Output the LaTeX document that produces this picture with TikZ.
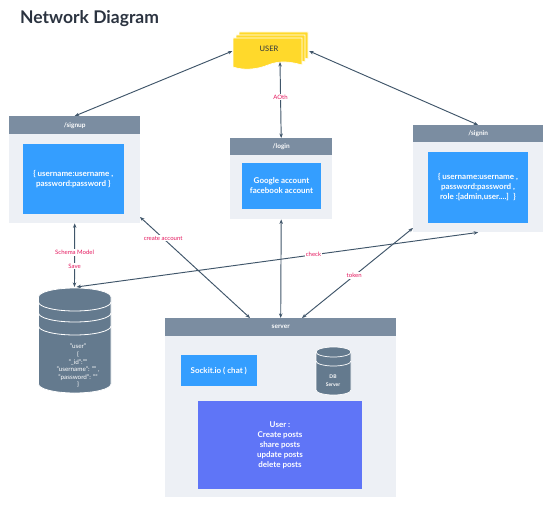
\documentclass[tikz,border=0pt]{standalone}
\usepackage{fontspec}
\setmainfont{Lato}
\usepackage{xcolor}
\usetikzlibrary{arrows.meta}
\definecolor{titlec}{HTML}{2B3340}
\definecolor{headc}{HTML}{7B8DA1}
\definecolor{bodyc}{HTML}{EDF0F5}
\definecolor{bluec}{HTML}{349EFF}
\definecolor{purplec}{HTML}{5F75F7}
\definecolor{yellowc}{HTML}{FFD92B}
\definecolor{dbc}{HTML}{647A8E}
\definecolor{linkc}{HTML}{40566A}
\definecolor{tagc}{HTML}{E5195F}
\tikzset{
  panel/.style={fill=bodyc, inner sep=0pt, anchor=north west},
  head/.style={fill=headc, text=white, inner sep=0pt, anchor=north west, font=\fontsize{6.5}{8}\selectfont\bfseries},
  card/.style={fill=bluec, text=white, inner sep=0pt, align=center, font=\fontsize{8}{10}\selectfont\bfseries},
  link/.style={draw=linkc, line width=0.95pt, {Stealth[length=4.5pt,width=3.5pt]}-{Stealth[length=4.5pt,width=3.5pt]}},
  tag/.style={fill=white, text=tagc, inner sep=1pt, font=\fontsize{6}{7}\selectfont},
  dbtxt/.style={text=white, align=center, inner sep=0pt},
}
% x y width height of a database drum
\newcommand{\drum}[7]{
  \draw[white,fill=dbc,line width=#7] (#1-#3,#2) arc (180:360:#3 and #4) -- (#1+#3,#2+#5) arc (0:180:#3 and #4) -- cycle;
  \foreach \k in {#6}
    \draw[white,line width=#7] (#1-#3,#2+\k) arc (180:0:#3 and #4);
}
\begin{document}
\begin{tikzpicture}[x=1pt,y=-1pt]
  \useasboundingbox (0,0) rectangle (557,508);
  \node[anchor=west,text=titlec,font=\fontsize{17.5}{20}\selectfont\bfseries,inner sep=0pt] (title) at (20,19) {Network Diagram};
  % user stack
  \foreach \d/\c in {6/yellowc,3/yellowc,0/yellowc}
    \draw[white,fill=\c,line width=0.6pt]
      (233+\d,38-\d) -- (302+\d,38-\d) -- (302+\d,65-\d) .. controls (292+\d,62-\d) and (280+\d,60-\d) .. (268+\d,65-\d) .. controls (258+\d,69-\d) and (245+\d,71-\d) .. (233+\d,67-\d) -- cycle;
  \node[font=\fontsize{7.5}{9}\selectfont,text=titlec] (user) at (269,49) {USER};
  \coordinate (userL) at (232.5,51);
  \coordinate (userR) at (309,51);
  \coordinate (userB) at (280,62);
  % panels
  \foreach \n/\t/\xa/\ya/\wa/\ha/\hh in {signup/{/signup}/9/116/131/107/18,login/{/login}/230/138/102/81/17,signin/{/signin}/413/125/130/107/17,server/server/165/318/231/179/18}{
    \node[panel,minimum width=\wa pt,minimum height=\ha pt] (\n) at (\xa,\ya) {};
    \node[head,minimum width=\wa pt,minimum height=\hh pt] (\n head) at (\xa,\ya) {\t};
  }
  \node[card,minimum width=100.5pt,minimum height=70pt] (signupcard) at (73.25,179) {\{ username:username ,\\ password:password \}};
  \node[card,minimum width=79pt,minimum height=46pt] (logincard) at (281.5,186) {Google account\\facebook account};
  \node[card,minimum width=100pt,minimum height=71pt] (signincard) at (478,187.5) {\{ username:username ,\\ password:password ,\\ role :[admin,user....]~ \}};
  \node[card,minimum width=76.5pt,minimum height=31pt] (sockit) at (218.75,370.5) {Sockit.io ( chat )};
  \node[card,fill=purplec,minimum width=164pt,minimum height=88pt] (posts) at (280,445) {User :\\Create posts\\share posts\\update posts\\delete posts};
  % databases
  \drum{74.75}{297}{36.25}{9}{87}{5,16,29}{0.8pt}
  \node[dbtxt,font=\fontsize{6.3}{7.6}\selectfont] (usersdb) at (78,366) {"user"\\\{\\"\_id":""\\"username": "" ,\\"password": ""\\\}};
  \drum{333.5}{352}{17.5}{5}{38}{0,9}{0.7pt}
  \node[dbtxt,font=\fontsize{5}{8}\selectfont\bfseries] (serverdb) at (333,381) {DB\\Server};
  % connectors
  \coordinate (signupR) at (140,217);
  \coordinate (signinL) at (413,228);
  \coordinate (serverL) at (250,318);
  \coordinate (serverR) at (302,318);
  \coordinate (dbA) at (74.5,287);
  \coordinate (dbB) at (76.5,287);
  \draw[link] (signup.north) -- (userL);
  \draw[link] (userR) -- (signin.north);
  \draw[link] (login.north) -- node[tag,pos=0.54] {AOth} (userB);
  \draw[link] (signup.south) -- node[tag,pos=0.46] {Schema Model} node[tag,pos=0.67] {Save} (dbA);
  \draw[link] (signupR) -- node[tag,pos=0.21] {create account} (serverL);
  \draw[link] (login.south) -- (server.north);
  \draw[link] (dbB) -- node[tag,pos=0.59] {check} (signin.south);
  \draw[link] (signinL) -- node[tag,pos=0.53] {token} (serverR);
\end{tikzpicture}
\end{document}
